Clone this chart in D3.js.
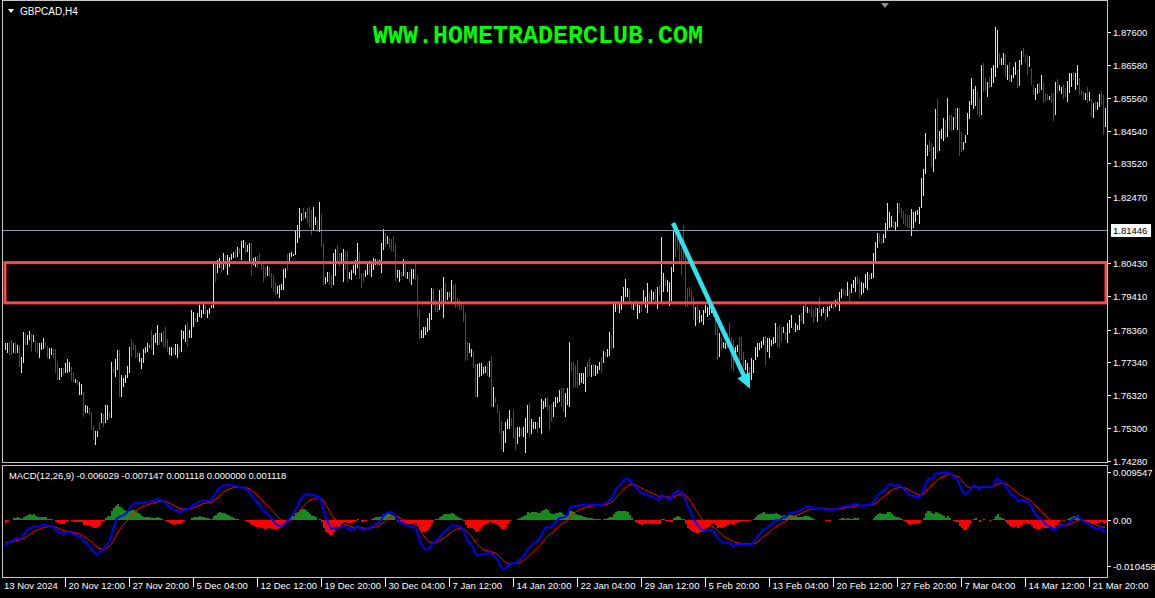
<!DOCTYPE html>
<html><head><meta charset="utf-8">
<script src="https://cdn.jsdelivr.net/npm/d3@7"></script>
<style>
html,body{margin:0;padding:0;background:#000;overflow:hidden;}
svg{display:block;}
</style></head><body>
<svg id="c" width="1155" height="598"></svg>
<script>
// ---------------- data ----------------
const symbolTitle = "GBPCAD,H4";
const watermark = "WWW.HOMETRADERCLUB.COM";
const macdTitle = "MACD(12,26,9) -0.006029 -0.007147 0.001118 0.000000 0.001118";

const openP = [
1.7778,1.7771,1.7787,1.7792,1.7771,1.7788,1.7769,1.7769,1.7713,1.7756,
1.7816,1.7796,1.7811,1.7808,1.7802,1.7795,1.7786,1.7759,1.7778,1.7784,
1.7793,1.7776,1.7753,1.7762,1.7769,1.7757,1.7721,1.7689,1.7696,1.7712,
1.7709,1.7712,1.7712,1.7709,1.7696,1.7673,1.7676,1.7643,1.7641,1.7623,
1.7583,1.7582,1.7588,1.7566,1.7526,1.7489,1.7507,1.7543,1.7554,1.7564,
1.7560,1.7567,1.7576,1.7605,1.7715,1.7703,1.7726,1.7737,1.7644,1.7665,
1.7676,1.7695,1.7721,1.7793,1.7789,1.7778,1.7762,1.7742,1.7722,1.7743,
1.7768,1.7773,1.7783,1.7820,1.7772,1.7802,1.7803,1.7816,1.7804,1.7820,
1.7828,1.7797,1.7763,1.7761,1.7774,1.7765,1.7759,1.7777,1.7783,1.7813,
1.7810,1.7840,1.7816,1.7832,1.7856,1.7869,1.7867,1.7884,1.7878,1.7893,
1.7904,1.7878,1.7889,1.7905,1.7938,1.8026,1.8022,1.8035,1.8036,1.8034,
1.8058,1.8021,1.8038,1.8057,1.8063,1.8077,1.8069,1.8085,1.8067,1.8095,
1.8100,1.8082,1.8058,1.8079,1.8042,1.8038,1.8056,1.8066,1.8038,1.8024,
1.8022,1.8010,1.8022,1.8000,1.7993,1.7974,1.7953,1.7944,1.7964,1.7975,
1.8004,1.8058,1.8055,1.8065,1.8066,1.8087,1.8119,1.8143,1.8179,1.8205,
1.8187,1.8202,1.8201,1.8188,1.8163,1.8167,1.8167,1.8162,1.8170,1.8072,
1.7983,1.7992,1.8005,1.7996,1.7999,1.8023,1.8086,1.8063,1.8053,1.8009,
1.8065,1.8056,1.7998,1.7998,1.8018,1.8017,1.8046,1.8056,1.8000,1.8005,
1.8004,1.8015,1.8041,1.8010,1.8030,1.8041,1.8050,1.8041,1.8035,1.8099,
1.8125,1.8108,1.8112,1.8108,1.8115,1.8075,1.8002,1.7993,1.8011,1.8015,
1.8031,1.7998,1.8007,1.7986,1.8001,1.8030,1.7973,1.7875,1.7816,1.7818,
1.7825,1.7840,1.7848,1.7891,1.7950,1.7919,1.7912,1.7912,1.7950,1.7904,
1.7966,1.7934,1.7945,1.7939,1.7963,1.7959,1.7927,1.7920,1.7914,1.7899,
1.7851,1.7783,1.7771,1.7757,1.7757,1.7704,1.7652,1.7700,1.7702,1.7703,
1.7706,1.7722,1.7701,1.7714,1.7611,1.7622,1.7598,1.7566,1.7530,1.7472,
1.7500,1.7535,1.7542,1.7556,1.7564,1.7513,1.7494,1.7511,1.7524,1.7511,
1.7480,1.7537,1.7582,1.7523,1.7532,1.7532,1.7541,1.7539,1.7539,1.7596,
1.7603,1.7617,1.7583,1.7591,1.7576,1.7604,1.7613,1.7620,1.7640,1.7636,
1.7583,1.7615,1.7646,1.7728,1.7715,1.7709,1.7720,1.7673,1.7678,1.7675,
1.7661,1.7724,1.7734,1.7698,1.7720,1.7700,1.7704,1.7717,1.7739,1.7741,
1.7762,1.7757,1.7773,1.7808,1.7814,1.7899,1.7917,1.7896,1.7908,1.7931,
1.7951,1.7944,1.7951,1.7919,1.7903,1.7923,1.7882,1.7894,1.7917,1.7929,
1.7911,1.7911,1.7945,1.7931,1.7934,1.7952,1.7917,1.7966,1.7972,1.7968,
1.7990,1.7962,1.7928,1.7951,1.8047,1.8124,1.8125,1.8108,1.8068,1.8134,
1.8039,1.7950,1.7960,1.7949,1.7919,1.7862,1.7901,1.7867,1.7865,1.7862,
1.7894,1.7883,1.7889,1.7893,1.7901,1.7861,1.7819,1.7769,1.7803,1.7783,
1.7780,1.7814,1.7841,1.7788,1.7780,1.7759,1.7771,1.7790,1.7795,1.7755,
1.7719,1.7704,1.7712,1.7697,1.7711,1.7752,1.7762,1.7778,1.7784,1.7794,
1.7794,1.7777,1.7763,1.7790,1.7796,1.7810,1.7829,1.7832,1.7832,1.7830,
1.7823,1.7810,1.7835,1.7851,1.7842,1.7836,1.7839,1.7846,1.7881,1.7867,
1.7917,1.7892,1.7897,1.7901,1.7889,1.7898,1.7871,1.7925,1.7883,1.7892,
1.7891,1.7883,1.7898,1.7906,1.7907,1.7911,1.7929,1.7909,1.7941,1.7957,
1.7954,1.7951,1.7952,1.7957,1.7971,1.7964,1.7996,1.7978,1.7953,1.7958,
1.7976,1.7973,1.8004,1.7998,1.8015,1.8061,1.8101,1.8126,1.8116,1.8112,
1.8132,1.8166,1.8163,1.8163,1.8168,1.8149,1.8173,1.8221,1.8206,1.8194,
1.8186,1.8182,1.8182,1.8148,1.8163,1.8178,1.8196,1.8177,1.8237,1.8272,
1.8351,1.8383,1.8416,1.8397,1.8344,1.8405,1.8510,1.8406,1.8436,1.8440,
1.8473,1.8464,1.8491,1.8490,1.8466,1.8509,1.8473,1.8487,1.8434,1.8400,
1.8421,1.8457,1.8504,1.8554,1.8536,1.8545,1.8558,1.8540,1.8541,1.8642,
1.8607,1.8570,1.8612,1.8604,1.8616,1.8659,1.8678,1.8686,1.8663,1.8667,
1.8672,1.8623,1.8652,1.8610,1.8625,1.8637,1.8628,1.8612,1.8669,1.8703,
1.8685,1.8674,1.8660,1.8635,1.8588,1.8558,1.8576,1.8594,1.8592,1.8589,
1.8564,1.8563,1.8552,1.8563,1.8549,1.8528,1.8603,1.8582,1.8573,1.8585,
1.8579,1.8559,1.8586,1.8600,1.8630,1.8593,1.8611,1.8604,1.8576,1.8568,
1.8554,1.8577,1.8553,1.8538,1.8505,1.8539,1.8524,1.8537,1.8566,1.8533,
1.8480];

const highP = [
1.7794,1.7794,1.7797,1.7804,1.7794,1.7797,1.7788,1.7785,1.7751,1.7829,
1.7825,1.7819,1.7832,1.7822,1.7819,1.7804,1.7794,1.7794,1.7794,1.7810,
1.7797,1.7785,1.7779,1.7779,1.7776,1.7776,1.7735,1.7717,1.7717,1.7717,
1.7732,1.7745,1.7735,1.7720,1.7704,1.7683,1.7680,1.7673,1.7667,1.7642,
1.7602,1.7599,1.7593,1.7580,1.7537,1.7521,1.7521,1.7549,1.7577,1.7574,
1.7602,1.7602,1.7580,1.7735,1.7720,1.7745,1.7773,1.7773,1.7695,1.7686,
1.7695,1.7723,1.7782,1.7807,1.7794,1.7788,1.7766,1.7763,1.7748,1.7776,
1.7782,1.7794,1.7788,1.7835,1.7819,1.7825,1.7850,1.7825,1.7825,1.7832,
1.7844,1.7807,1.7782,1.7782,1.7779,1.7791,1.7791,1.7782,1.7835,1.7832,
1.7850,1.7860,1.7835,1.7897,1.7891,1.7872,1.7888,1.7912,1.7897,1.7916,
1.7912,1.7897,1.7903,1.7912,1.8043,1.8040,1.8052,1.8058,1.8043,1.8074,
1.8068,1.8068,1.8061,1.8071,1.8077,1.8083,1.8093,1.8089,1.8111,1.8114,
1.8108,1.8099,1.8105,1.8105,1.8058,1.8061,1.8065,1.8074,1.8043,1.8037,
1.8030,1.8034,1.8030,1.8012,1.8006,1.7984,1.7971,1.7974,1.7978,1.8024,
1.8027,1.8071,1.8074,1.8077,1.8071,1.8145,1.8161,1.8214,1.8198,1.8214,
1.8201,1.8214,1.8217,1.8207,1.8217,1.8186,1.8176,1.8232,1.8195,1.8105,
1.7999,1.8015,1.8015,1.8006,1.8074,1.8086,1.8099,1.8074,1.8074,1.8086,
1.8080,1.8080,1.8015,1.8021,1.8037,1.8052,1.8105,1.8077,1.8012,1.8012,
1.8021,1.8043,1.8052,1.8043,1.8058,1.8055,1.8055,1.8052,1.8105,1.8148,
1.8136,1.8127,1.8120,1.8117,1.8127,1.8105,1.8021,1.8021,1.8015,1.8055,
1.8043,1.8015,1.8015,1.8024,1.8024,1.8043,1.8006,1.7897,1.7835,1.7844,
1.7844,1.7872,1.7888,1.7965,1.7962,1.7928,1.7919,1.7959,1.7965,1.7999,
1.7981,1.7953,1.7953,1.7990,1.7974,1.7978,1.7934,1.7928,1.7919,1.7912,
1.7888,1.7797,1.7794,1.7776,1.7770,1.7729,1.7729,1.7732,1.7732,1.7720,
1.7723,1.7732,1.7739,1.7754,1.7658,1.7627,1.7605,1.7583,1.7552,1.7521,
1.7549,1.7558,1.7586,1.7562,1.7586,1.7530,1.7534,1.7534,1.7530,1.7534,
1.7562,1.7602,1.7608,1.7558,1.7549,1.7549,1.7549,1.7565,1.7620,1.7614,
1.7624,1.7627,1.7602,1.7605,1.7611,1.7627,1.7627,1.7649,1.7655,1.7655,
1.7639,1.7655,1.7797,1.7735,1.7735,1.7726,1.7742,1.7701,1.7701,1.7701,
1.7720,1.7735,1.7748,1.7726,1.7729,1.7726,1.7723,1.7735,1.7751,1.7770,
1.7766,1.7776,1.7829,1.7819,1.7919,1.7922,1.7922,1.7919,1.7940,1.7968,
1.7993,1.7965,1.7962,1.7925,1.7922,1.7928,1.7922,1.7912,1.7925,1.7959,
1.7937,1.7981,1.7953,1.7959,1.7953,1.7962,1.7968,1.7974,1.8124,1.8012,
1.7996,1.7990,1.7984,1.8030,1.8145,1.8145,1.8139,1.8130,1.8089,1.8161,
1.8083,1.7965,1.7968,1.7959,1.7937,1.7906,1.7912,1.7897,1.7881,1.7897,
1.7912,1.7906,1.7912,1.7909,1.7909,1.7875,1.7844,1.7825,1.7813,1.7797,
1.7794,1.7825,1.7857,1.7813,1.7804,1.7782,1.7788,1.7813,1.7813,1.7766,
1.7742,1.7732,1.7720,1.7748,1.7742,1.7782,1.7794,1.7794,1.7801,1.7813,
1.7816,1.7810,1.7810,1.7804,1.7813,1.7857,1.7844,1.7850,1.7844,1.7844,
1.7829,1.7857,1.7866,1.7881,1.7844,1.7857,1.7850,1.7881,1.7888,1.7909,
1.7925,1.7906,1.7900,1.7909,1.7900,1.7906,1.7903,1.7937,1.7900,1.7906,
1.7900,1.7906,1.7909,1.7916,1.7909,1.7928,1.7934,1.7953,1.7962,1.7962,
1.7959,1.7984,1.7962,1.7978,1.7990,1.7999,1.8002,1.7993,1.7984,1.7981,
1.8009,1.8015,1.8009,1.8012,1.8074,1.8108,1.8136,1.8133,1.8120,1.8133,
1.8167,1.8229,1.8201,1.8189,1.8173,1.8170,1.8229,1.8229,1.8214,1.8204,
1.8195,1.8192,1.8192,1.8211,1.8201,1.8204,1.8207,1.8217,1.8307,1.8335,
1.8447,1.8409,1.8425,1.8415,1.8403,1.8521,1.8552,1.8453,1.8459,1.8493,
1.8487,1.8555,1.8502,1.8502,1.8496,1.8524,1.8524,1.8524,1.8450,1.8419,
1.8440,1.8509,1.8546,1.8617,1.8583,1.8592,1.8577,1.8555,1.8658,1.8664,
1.8617,1.8605,1.8620,1.8648,1.8658,1.8776,1.8766,1.8695,1.8679,1.8695,
1.8689,1.8658,1.8667,1.8627,1.8651,1.8667,1.8642,1.8673,1.8701,1.8710,
1.8692,1.8689,1.8686,1.8648,1.8596,1.8586,1.8599,1.8602,1.8627,1.8605,
1.8571,1.8568,1.8561,1.8571,1.8571,1.8605,1.8614,1.8596,1.8589,1.8596,
1.8586,1.8608,1.8633,1.8633,1.8636,1.8633,1.8658,1.8617,1.8580,1.8574,
1.8571,1.8589,1.8574,1.8552,1.8540,1.8546,1.8543,1.8568,1.8577,1.8564,
1.8524];

const lowP = [
1.7773,1.7763,1.7757,1.7757,1.7763,1.7760,1.7763,1.7720,1.7701,1.7732,
1.7788,1.7788,1.7804,1.7766,1.7797,1.7766,1.7763,1.7748,1.7773,1.7776,
1.7782,1.7748,1.7745,1.7757,1.7748,1.7701,1.7680,1.7680,1.7689,1.7695,
1.7701,1.7701,1.7704,1.7676,1.7673,1.7670,1.7664,1.7633,1.7633,1.7565,
1.7577,1.7577,1.7571,1.7524,1.7493,1.7478,1.7503,1.7524,1.7546,1.7534,
1.7546,1.7555,1.7562,1.7562,1.7701,1.7689,1.7711,1.7627,1.7627,1.7658,
1.7670,1.7686,1.7701,1.7751,1.7773,1.7748,1.7748,1.7735,1.7714,1.7732,
1.7763,1.7766,1.7779,1.7773,1.7757,1.7794,1.7788,1.7788,1.7797,1.7782,
1.7779,1.7766,1.7757,1.7754,1.7760,1.7757,1.7748,1.7763,1.7766,1.7807,
1.7797,1.7782,1.7810,1.7810,1.7844,1.7860,1.7860,1.7875,1.7872,1.7885,
1.7881,1.7872,1.7885,1.7903,1.7903,1.7984,1.8012,1.8027,1.8015,1.8021,
1.8027,1.8006,1.8030,1.8052,1.8058,1.8058,1.8061,1.8071,1.8052,1.8089,
1.8074,1.8077,1.8043,1.8002,1.8037,1.8030,1.8027,1.8043,1.8021,1.7984,
1.7996,1.8002,1.7999,1.7965,1.7953,1.7943,1.7947,1.7934,1.7959,1.7959,
1.7996,1.8018,1.8049,1.8061,1.8065,1.8068,1.8105,1.8120,1.8173,1.8176,
1.8183,1.8167,1.8151,1.8130,1.8145,1.8161,1.8139,1.8139,1.8093,1.7974,
1.7978,1.7984,1.7974,1.7965,1.7974,1.8002,1.8046,1.8030,1.8046,1.7984,
1.8021,1.7984,1.7993,1.7990,1.8012,1.8006,1.8027,1.7993,1.7965,1.7984,
1.7999,1.8006,1.8006,1.7999,1.8021,1.8037,1.8034,1.8037,1.8012,1.8083,
1.8093,1.8102,1.8086,1.8080,1.8077,1.7987,1.7996,1.7984,1.7999,1.8002,
1.7996,1.7993,1.7984,1.7974,1.7993,1.7990,1.7875,1.7807,1.7810,1.7810,
1.7819,1.7829,1.7835,1.7866,1.7912,1.7891,1.7891,1.7897,1.7906,1.7872,
1.7919,1.7928,1.7937,1.7922,1.7928,1.7903,1.7906,1.7897,1.7897,1.7860,
1.7739,1.7742,1.7763,1.7751,1.7717,1.7627,1.7627,1.7689,1.7692,1.7698,
1.7701,1.7692,1.7689,1.7596,1.7596,1.7608,1.7577,1.7515,1.7462,1.7456,
1.7484,1.7527,1.7527,1.7537,1.7499,1.7462,1.7481,1.7503,1.7506,1.7503,
1.7453,1.7515,1.7503,1.7512,1.7527,1.7527,1.7515,1.7530,1.7512,1.7590,
1.7596,1.7586,1.7524,1.7549,1.7565,1.7596,1.7608,1.7611,1.7596,1.7580,
1.7565,1.7602,1.7596,1.7708,1.7655,1.7658,1.7655,1.7664,1.7670,1.7667,
1.7642,1.7689,1.7692,1.7689,1.7692,1.7692,1.7698,1.7711,1.7701,1.7732,
1.7751,1.7751,1.7754,1.7773,1.7779,1.7891,1.7900,1.7888,1.7897,1.7919,
1.7937,1.7937,1.7919,1.7900,1.7897,1.7906,1.7869,1.7888,1.7891,1.7919,
1.7903,1.7888,1.7919,1.7922,1.7928,1.7922,1.7900,1.7943,1.7922,1.7953,
1.7971,1.7953,1.7909,1.7925,1.8015,1.8061,1.8083,1.8043,1.8006,1.8052,
1.7906,1.7906,1.7937,1.7919,1.7866,1.7847,1.7866,1.7857,1.7860,1.7850,
1.7888,1.7875,1.7881,1.7888,1.7875,1.7819,1.7742,1.7751,1.7773,1.7779,
1.7776,1.7779,1.7794,1.7714,1.7708,1.7751,1.7766,1.7720,1.7742,1.7720,
1.7711,1.7695,1.7689,1.7680,1.7701,1.7742,1.7751,1.7773,1.7779,1.7788,
1.7726,1.7766,1.7748,1.7785,1.7791,1.7794,1.7782,1.7779,1.7797,1.7825,
1.7804,1.7794,1.7825,1.7841,1.7835,1.7829,1.7835,1.7835,1.7860,1.7853,
1.7891,1.7888,1.7888,1.7875,1.7857,1.7875,1.7860,1.7888,1.7878,1.7888,
1.7863,1.7875,1.7894,1.7903,1.7900,1.7906,1.7912,1.7894,1.7934,1.7943,
1.7940,1.7940,1.7922,1.7950,1.7965,1.7953,1.7978,1.7934,1.7943,1.7950,
1.7965,1.7959,1.7990,1.7993,1.7996,1.8046,1.8089,1.8105,1.8102,1.8105,
1.8120,1.8145,1.8151,1.8155,1.8151,1.8142,1.8155,1.8198,1.8183,1.8164,
1.8158,1.8151,1.8151,1.8127,1.8151,1.8170,1.8192,1.8164,1.8214,1.8251,
1.8319,1.8375,1.8387,1.8341,1.8325,1.8366,1.8384,1.8391,1.8428,1.8422,
1.8431,1.8434,1.8456,1.8453,1.8456,1.8462,1.8456,1.8375,1.8387,1.8394,
1.8415,1.8440,1.8490,1.8533,1.8521,1.8530,1.8502,1.8496,1.8502,1.8574,
1.8577,1.8558,1.8586,1.8589,1.8602,1.8620,1.8648,1.8658,1.8658,1.8658,
1.8620,1.8611,1.8605,1.8605,1.8617,1.8627,1.8586,1.8592,1.8658,1.8682,
1.8664,1.8627,1.8651,1.8596,1.8564,1.8549,1.8568,1.8571,1.8580,1.8540,
1.8543,1.8549,1.8549,1.8540,1.8484,1.8502,1.8571,1.8577,1.8568,1.8552,
1.8558,1.8543,1.8571,1.8589,1.8611,1.8580,1.8596,1.8564,1.8564,1.8549,
1.8549,1.8540,1.8546,1.8496,1.8493,1.8518,1.8518,1.8527,1.8533,1.8440,
1.8465];

const closeP = [
1.7789,1.7786,1.7767,1.7769,1.7786,1.7769,1.7782,1.7736,1.7739,1.7805,
1.7797,1.7811,1.7825,1.7780,1.7814,1.7775,1.7771,1.7783,1.7789,1.7802,
1.7786,1.7757,1.7771,1.7774,1.7755,1.7720,1.7694,1.7708,1.7710,1.7700,
1.7724,1.7734,1.7727,1.7687,1.7681,1.7680,1.7668,1.7663,1.7659,1.7584,
1.7596,1.7594,1.7576,1.7538,1.7504,1.7510,1.7517,1.7530,1.7569,1.7544,
1.7588,1.7590,1.7566,1.7692,1.7706,1.7731,1.7758,1.7663,1.7678,1.7679,
1.7689,1.7714,1.7762,1.7765,1.7778,1.7758,1.7752,1.7756,1.7740,1.7765,
1.7777,1.7787,1.7783,1.7788,1.7804,1.7817,1.7835,1.7797,1.7818,1.7794,
1.7795,1.7776,1.7776,1.7775,1.7765,1.7783,1.7780,1.7768,1.7818,1.7826,
1.7837,1.7802,1.7829,1.7875,1.7879,1.7863,1.7881,1.7903,1.7891,1.7908,
1.7889,1.7891,1.7899,1.7910,1.8008,1.7998,1.8042,1.8050,1.8022,1.8061,
1.8037,1.8053,1.8053,1.8066,1.8072,1.8064,1.8085,1.8075,1.8096,1.8108,
1.8082,1.8094,1.8090,1.8028,1.8053,1.8053,1.8036,1.8051,1.8026,1.7997,
1.8004,1.8026,1.8007,1.7977,1.7966,1.7953,1.7965,1.7964,1.7973,1.8008,
1.8019,1.8031,1.8068,1.8073,1.8070,1.8126,1.8147,1.8191,1.8192,1.8185,
1.8197,1.8179,1.8167,1.8149,1.8199,1.8180,1.8148,1.8209,1.8118,1.8007,
1.7994,1.8007,1.7984,1.7975,1.8049,1.8065,1.8059,1.8041,1.8067,1.8061,
1.8036,1.8008,1.8010,1.8013,1.8031,1.8041,1.8086,1.8014,1.7977,1.7991,
1.8016,1.8034,1.8017,1.8032,1.8049,1.8051,1.8039,1.8048,1.8082,1.8132,
1.8104,1.8121,1.8094,1.8089,1.8089,1.8017,1.8015,1.8012,1.8003,1.8042,
1.8008,1.8010,1.7992,1.8012,1.8016,1.8003,1.7908,1.7829,1.7829,1.7836,
1.7838,1.7861,1.7875,1.7940,1.7924,1.7900,1.7898,1.7944,1.7921,1.7967,
1.7934,1.7947,1.7945,1.7973,1.7939,1.7922,1.7913,1.7905,1.7902,1.7873,
1.7776,1.7756,1.7786,1.7770,1.7730,1.7652,1.7704,1.7721,1.7722,1.7715,
1.7718,1.7702,1.7727,1.7636,1.7643,1.7613,1.7584,1.7532,1.7484,1.7505,
1.7533,1.7550,1.7571,1.7543,1.7521,1.7479,1.7521,1.7526,1.7512,1.7526,
1.7535,1.7580,1.7529,1.7547,1.7544,1.7544,1.7523,1.7556,1.7593,1.7608,
1.7617,1.7596,1.7543,1.7563,1.7600,1.7619,1.7622,1.7640,1.7611,1.7599,
1.7621,1.7642,1.7747,1.7715,1.7675,1.7675,1.7677,1.7692,1.7693,1.7693,
1.7701,1.7700,1.7706,1.7717,1.7701,1.7718,1.7717,1.7729,1.7713,1.7761,
1.7755,1.7770,1.7810,1.7784,1.7884,1.7914,1.7905,1.7911,1.7929,1.7956,
1.7979,1.7958,1.7930,1.7906,1.7916,1.7911,1.7909,1.7906,1.7899,1.7949,
1.7929,1.7958,1.7927,1.7950,1.7947,1.7932,1.7951,1.7951,1.8074,1.7997,
1.7977,1.7981,1.7965,1.8004,1.8113,1.8082,1.8097,1.8065,1.8027,1.8079,
1.7950,1.7921,1.7945,1.7929,1.7884,1.7891,1.7877,1.7887,1.7876,1.7885,
1.7906,1.7898,1.7904,1.7904,1.7883,1.7833,1.7767,1.7807,1.7783,1.7793,
1.7790,1.7790,1.7810,1.7739,1.7732,1.7774,1.7783,1.7743,1.7760,1.7731,
1.7734,1.7723,1.7697,1.7731,1.7732,1.7772,1.7783,1.7789,1.7796,1.7807,
1.7748,1.7799,1.7795,1.7799,1.7808,1.7841,1.7797,1.7797,1.7809,1.7839,
1.7810,1.7841,1.7856,1.7871,1.7837,1.7850,1.7846,1.7870,1.7867,1.7895,
1.7899,1.7902,1.7891,1.7883,1.7868,1.7883,1.7892,1.7900,1.7895,1.7902,
1.7872,1.7898,1.7905,1.7913,1.7902,1.7923,1.7917,1.7938,1.7955,1.7948,
1.7945,1.7973,1.7932,1.7971,1.7984,1.7988,1.7984,1.7949,1.7974,1.7973,
1.7998,1.8001,1.7995,1.8007,1.8055,1.8093,1.8124,1.8112,1.8106,1.8126,
1.8155,1.8208,1.8189,1.8181,1.8156,1.8163,1.8211,1.8206,1.8191,1.8174,
1.8167,1.8161,1.8161,1.8190,1.8189,1.8196,1.8203,1.8204,1.8284,1.8314,
1.8415,1.8401,1.8396,1.8359,1.8384,1.8482,1.8426,1.8438,1.8451,1.8475,
1.8445,1.8525,1.8467,1.8465,1.8486,1.8477,1.8507,1.8412,1.8403,1.8413,
1.8434,1.8492,1.8532,1.8596,1.8568,1.8577,1.8521,1.8511,1.8619,1.8596,
1.8587,1.8593,1.8594,1.8633,1.8644,1.8737,1.8736,1.8667,1.8674,1.8686,
1.8637,1.8646,1.8620,1.8622,1.8643,1.8657,1.8600,1.8653,1.8690,1.8689,
1.8671,1.8642,1.8677,1.8609,1.8572,1.8577,1.8591,1.8579,1.8615,1.8556,
1.8550,1.8554,1.8558,1.8548,1.8506,1.8579,1.8582,1.8591,1.8584,1.8563,
1.8565,1.8592,1.8618,1.8622,1.8617,1.8620,1.8643,1.8577,1.8568,1.8555,
1.8566,1.8552,1.8567,1.8510,1.8528,1.8525,1.8537,1.8558,1.8544,1.8471,
1.8509];

const priceTicks = [1.87600,1.86580,1.85560,1.84540,1.83520,1.82470,1.80430,1.79410,1.78360,1.77340,1.76320,1.75300,1.74280];
const priceTickLabels = ["1.87600","1.86580","1.85560","1.84540","1.83520","1.82470","1.80430","1.79410","1.78360","1.77340","1.76320","1.75300","1.74280"];
const dateLabels = ["13 Nov 2024","20 Nov 12:00","27 Nov 20:00","5 Dec 04:00","12 Dec 12:00","19 Dec 20:00","30 Dec 04:00","7 Jan 12:00","14 Jan 20:00","22 Jan 04:00","29 Jan 12:00","5 Feb 20:00","13 Feb 04:00","20 Feb 12:00","27 Feb 20:00","7 Mar 04:00","14 Mar 12:00","21 Mar 20:00"];
const dateLabelBars = [0,30,62,94,126,158,190,222,254,286,318,350,382,414,446,478,510,542];
const macdTicks = [0.009547, 0.0, -0.010458];
const macdTickLabels = ["0.009547","0.00","-0.010458"];

const hLinePrice = 1.81446;
const hLineLabel = "1.81446";
const zoneTopPrice = 1.8044, zoneBottomPrice = 1.7919, zoneStartBar = 0, zoneEndBar = 550.5;
const arrowStart = {bar: 334, price: 1.8167};
const arrowEnd = {bar: 372.5, price: 1.7652};
const macdSeed = -0.0046, signalSeed = -0.0040;   // indicator state at the first visible bar

// ---------------- chart ----------------
const N = closeP.length;
const svg = d3.select("#c");
svg.append("rect").attr("width",1155).attr("height",598).attr("fill","#000");

const xBar = d3.scaleLinear().domain([0, N-1]).range([5, 1105]);
const yP = d3.scaleLinear().domain([1.7428, 1.876]).range([461, 32]);
const yM = d3.scaleLinear().domain([-0.010458, 0.009547]).range([577, 468]);

const FONT = "'Liberation Sans', Arial, sans-serif";
const UP = "#ffff00", DN = "#ff0000", DOJI = "#00ff00";

const defs = svg.append("defs");
defs.append("clipPath").attr("id","mainClip").append("rect").attr("x",3).attr("y",1).attr("width",1104).attr("height",461);
defs.append("clipPath").attr("id","macdClip").append("rect").attr("x",3).attr("y",466).attr("width",1104).attr("height",111);

const main = svg.append("g").attr("clip-path","url(#mainClip)");

// bars
const bars = d3.range(N).map(i => ({i, o: openP[i], h: highP[i], l: lowP[i], c: closeP[i]}));
main.append("g").selectAll("line").data(bars).join("line")
  .attr("x1", d => Math.round(xBar(d.i)) + 0.5).attr("x2", d => Math.round(xBar(d.i)) + 0.5)
  .attr("y1", d => yP(d.h)).attr("y2", d => yP(d.l))
  .attr("stroke", d => d.c > d.o ? UP : (d.c < d.o ? DN : DOJI))
  .attr("stroke-width", 1).attr("shape-rendering","crispEdges");

// horizontal line
main.append("line").attr("x1",0).attr("x2",1107)
  .attr("y1", Math.round(yP(hLinePrice)) + 0.5).attr("y2", Math.round(yP(hLinePrice)) + 0.5)
  .attr("stroke","#8d9aa8").attr("stroke-width",1).attr("shape-rendering","crispEdges");

// zone rectangle
main.append("rect")
  .attr("x", xBar(zoneStartBar)).attr("y", yP(zoneTopPrice))
  .attr("width", xBar(zoneEndBar) - xBar(zoneStartBar))
  .attr("height", yP(zoneBottomPrice) - yP(zoneTopPrice))
  .attr("fill","none").attr("stroke","#ff4545").attr("stroke-width",3);

// arrow
{
  const x0 = xBar(arrowStart.bar), y0 = yP(arrowStart.price);
  const x1 = xBar(arrowEnd.bar), y1 = yP(arrowEnd.price);
  const dx = x1 - x0, dy = y1 - y0, len = Math.hypot(dx, dy);
  const ux = dx/len, uy = dy/len, px = -uy, py = ux;
  const headL = 15, headW = 7;
  const bx = x1 - ux*headL, by = y1 - uy*headL;
  const col = "#2de4f0";
  main.append("line").attr("x1",x0).attr("y1",y0).attr("x2",bx+ux*2).attr("y2",by+uy*2)
    .attr("stroke",col).attr("stroke-width",4.5);
  main.append("path").attr("d", `M${x1},${y1}L${bx+px*headW},${by+py*headW}L${bx-px*headW},${by-py*headW}Z`).attr("fill",col);
}

// watermark
svg.append("text").attr("x",373).attr("y",43).text(watermark)
  .attr("font-family","'Liberation Mono','Courier New',monospace").attr("font-weight","bold")
  .attr("font-size",26).attr("fill","#00ff00")
  .attr("textLength",330).attr("lengthAdjust","spacingAndGlyphs");

// header
svg.append("path").attr("d","M8,9L14,9L11,13Z").attr("fill","#ffffff");
svg.append("text").attr("x",20).attr("y",15).text(symbolTitle)
  .attr("font-family",FONT).attr("font-size",10).attr("fill","#ffffff");

// shift marker
svg.append("path").attr("d","M881,3L889,3L885,8Z").attr("fill","#8c8c8c");

// ---------------- MACD ----------------
const a12 = 2/13, a26 = 2/27, a9 = 2/10;
let e12 = closeP[0], e26 = closeP[0] - macdSeed, sig = signalSeed;
const macd = [], signal = [];
for (let i = 0; i < N; i++) {
  if (i > 0) { e12 += a12*(closeP[i]-e12); e26 += a26*(closeP[i]-e26); }
  const m = e12 - e26;
  if (i > 0) sig += a9*(m - sig);
  macd.push(m); signal.push(sig);
}
const hist = macd.map((m,i) => m - signal[i]);

const mg = svg.append("g").attr("clip-path","url(#macdClip)");
mg.append("g").selectAll("rect").data(hist).join("rect")
  .attr("x", (d,i) => Math.round(xBar(i)) - 0.5).attr("width", 2)
  .attr("y", d => yM(Math.max(0,d))).attr("height", d => Math.abs(yM(d) - yM(0)))
  .attr("fill", d => d >= 0 ? "#168a1c" : "#ff0000").attr("shape-rendering","crispEdges");
const lineGen = arr => d3.line().x((d,i) => xBar(i)).y(d => yM(d))(arr);
mg.append("path").attr("d", lineGen(signal)).attr("fill","none").attr("stroke","#ff0000").attr("stroke-width",1);
mg.append("path").attr("d", lineGen(macd)).attr("fill","none").attr("stroke","#0000ff").attr("stroke-width",2);

svg.append("text").attr("x",9).attr("y",479).text(macdTitle)
  .attr("font-family",FONT).attr("font-size",9.4).attr("fill","#ffffff");

// ---------------- frames & axes ----------------
const frameCol = "#c8c8c8";
svg.append("rect").attr("x",2.5).attr("y",0.5).attr("width",1105).attr("height",462).attr("fill","none").attr("stroke",frameCol);
svg.append("rect").attr("x",2.5).attr("y",465.5).attr("width",1105).attr("height",112).attr("fill","none").attr("stroke",frameCol);

const axG = svg.append("g");
priceTicks.forEach((p,k) => {
  const y = Math.round(yP(p)) + 0.5;
  axG.append("line").attr("x1",1108).attr("x2",1111).attr("y1",y).attr("y2",y).attr("stroke","#ffffff");
  axG.append("text").attr("x",1113).attr("y",y+3.5).text(priceTickLabels[k])
    .attr("font-family",FONT).attr("font-size",9.5).attr("fill","#ffffff");
});
{
  const y = Math.round(yP(hLinePrice)) + 0.5;
  axG.append("rect").attr("x",1111).attr("y",y-6.5).attr("width",40).attr("height",13).attr("fill","#ffffff");
  axG.append("text").attr("x",1113).attr("y",y+3.5).text(hLineLabel)
    .attr("font-family",FONT).attr("font-size",9.5).attr("fill","#000000");
}
const macdLabelY = [472, 520, 566];
macdTicks.forEach((v,k) => {
  const y = k === 1 ? Math.round(yM(v)) : macdLabelY[k];
  axG.append("line").attr("x1",1108).attr("x2",1111).attr("y1",y+0.5).attr("y2",y+0.5).attr("stroke","#ffffff");
  axG.append("text").attr("x",1113).attr("y",y+4).text(macdTickLabels[k])
    .attr("font-family",FONT).attr("font-size",9.5).attr("fill","#ffffff");
});
dateLabels.forEach((t,k) => {
  const x = Math.round(xBar(dateLabelBars[k])) + 0.5;
  if (k > 0) axG.append("line").attr("x1",x).attr("x2",x).attr("y1",578).attr("y2",587).attr("stroke","#ffffff");
  axG.append("text").attr("x", k > 0 ? x+3 : 4).attr("y",589).text(t)
    .attr("font-family",FONT).attr("font-size",9.5).attr("fill","#ffffff");
});
</script>
</body></html>
